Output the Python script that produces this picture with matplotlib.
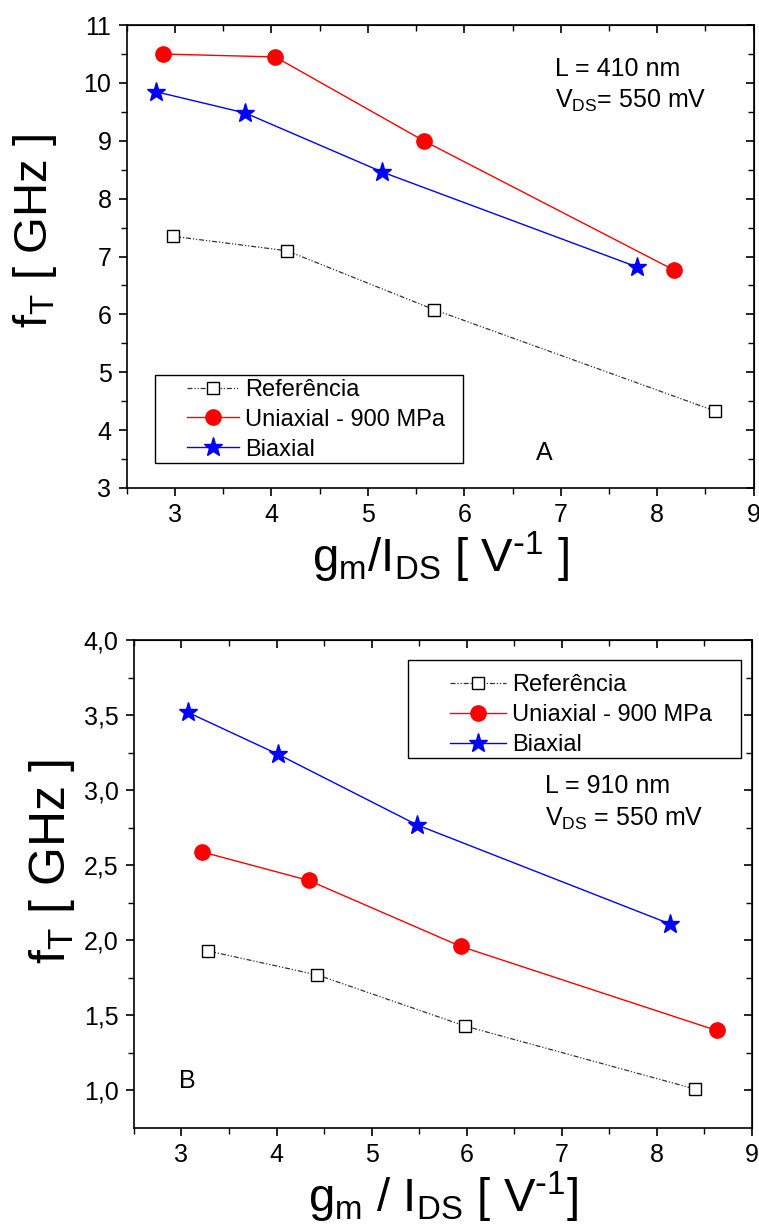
import matplotlib
matplotlib.use("Agg")
import matplotlib.pyplot as plt
from matplotlib.patches import Rectangle

plt.rcParams["font.family"] = ["Liberation Sans", "DejaVu Sans"]
plt.rcParams["mathtext.default"] = "regular"

# panel A: L = 410 nm
a_ref_x = [2.98, 4.16, 5.69, 8.60]
a_ref_y = [7.35, 7.10, 6.08, 4.33]
a_uni_x = [2.88, 4.04, 5.58, 8.17]
a_uni_y = [10.50, 10.45, 9.00, 6.77]
a_bi_x = [2.80, 3.73, 5.15, 7.79]
a_bi_y = [9.85, 9.48, 8.46, 6.82]

# panel B: L = 910 nm
b_ref_x = [3.28, 4.43, 5.98, 8.40]
b_ref_y = [1.93, 1.77, 1.43, 1.01]
b_uni_x = [3.22, 4.34, 5.94, 8.63]
b_uni_y = [2.59, 2.40, 1.96, 1.40]
b_bi_x = [3.07, 4.02, 5.48, 8.14]
b_bi_y = [3.52, 3.24, 2.77, 2.11]

labels = ["Referência", "Uniaxial - 900 MPa", "Biaxial"]


def draw(ax, rx, ry, ux, uy, bx, by):
    ax.plot(rx, ry, color="#333333", lw=0.9, ls=(0, (4, 1.5, 1, 1.5, 1, 1.5)),
            marker="s", ms=9, mfc="white", mec="black", mew=1.0, label=labels[0])
    ax.plot(ux, uy, color="red", lw=1.0, marker="o", ms=11, mfc="red", mec="red",
            label=labels[1])
    ax.plot(bx, by, color="blue", lw=1.0, marker="*", ms=14, mfc="blue", mec="blue",
            label=labels[2])


def style(ax, yticks, ymin_loc, fmt, lsize):
    ax.set_xlim(2.5, 9)
    ax.set_xticks(range(3, 10))
    ax.set_xticks([x + 0.5 for x in range(2, 9)], minor=True)
    ax.set_yticks(yticks)
    ax.set_yticks(ymin_loc, minor=True)
    ax.set_yticklabels([fmt(v) for v in yticks])
    for s in ax.spines.values():
        s.set_linewidth(1.2)
    ax.tick_params(which="major", direction="out", length=6, width=1.2, labelsize=lsize,
                   pad=5, top=False, right=False)
    ax.tick_params(which="minor", direction="out", length=4, width=1.0,
                   top=False, right=False)
    # inward ticks on the top and right frame
    tx = ax.secondary_xaxis("top")
    tx.set_xticks(ax.get_xticks())
    tx.set_xticks(ax.get_xticks(minor=True), minor=True)
    tx.tick_params(which="major", direction="in", length=6, width=1.2, labeltop=False)
    tx.tick_params(which="minor", direction="in", length=4, width=1.0)
    ty = ax.secondary_yaxis("right")
    ty.set_yticks(yticks)
    ty.set_yticks(ymin_loc, minor=True)
    ty.tick_params(which="major", direction="in", length=6, width=1.2, labelright=False)
    ty.tick_params(which="minor", direction="in", length=4, width=1.0)


def legend_box(ax, rect, anchor, hlen):
    ax.add_patch(Rectangle((rect[0], rect[1]), rect[2] - rect[0], rect[3] - rect[1],
                           transform=ax.transAxes, fill=False, ec="black", lw=1.0,
                           zorder=4))
    ax.legend(loc="upper left", bbox_to_anchor=anchor, fontsize=17, frameon=False,
              handlelength=hlen, borderpad=0, labelspacing=0.33, handletextpad=0.25)


fig = plt.figure(figsize=(7.59, 12.31), dpi=100)

# ---- panel A ----
axA = fig.add_axes([0.167, 0.6036, 0.826, 0.376])
draw(axA, a_ref_x, a_ref_y, a_uni_x, a_uni_y, a_bi_x, a_bi_y)
axA.set_ylim(3, 11)
style(axA, list(range(3, 12)), [v + 0.5 for v in range(3, 11)], lambda v: f"{v:d}", 18)
axA.set_ylabel("f$_T$ [ GHz ]", fontsize=34)
axA.yaxis.set_label_coords(-0.108, 0.555)
axA.set_xlabel(r"g$_m$/I$_{DS}$ [ V$^{\text{-}1}$ ]", fontsize=34, labelpad=2)
axA.text(6.94, 10.24, "L = 410 nm", fontsize=18, va="center")
axA.text(6.94, 9.69, "V$_{DS}$= 550 mV", fontsize=18, va="center")
axA.text(6.83, 3.6, "A", fontsize=18, ha="center", va="center")
legend_box(axA, (0.0447, 0.054, 0.536, 0.244), (0.077, 0.261), 2.2)

# ---- panel B ----
axB = fig.add_axes([0.1765, 0.0837, 0.814, 0.396])
draw(axB, b_ref_x, b_ref_y, b_uni_x, b_uni_y, b_bi_x, b_bi_y)
axB.set_ylim(0.75, 4.0)
style(axB, [1.0, 1.5, 2.0, 2.5, 3.0, 3.5, 4.0], [1.25, 1.75, 2.25, 2.75, 3.25, 3.75],
      lambda v: f"{v:.1f}".replace(".", ","), 18)
axB.set_ylabel("f$_T$ [ GHz ]", fontsize=36)
axB.yaxis.set_label_coords(-0.093, 0.547)
axB.set_xlabel(r"g$_m$ / I$_{DS}$ [ V$^{\text{-}1}$]", fontsize=34, labelpad=2)
axB.text(6.82, 3.03, "L = 910 nm", fontsize=18, va="center")
axB.text(6.82, 2.81, "V$_{DS}$ = 550 mV", fontsize=18, va="center")
axB.text(3.06, 1.06, "B", fontsize=18, ha="center", va="center")
legend_box(axB, (0.443, 0.758, 0.982, 0.961), (0.492, 0.955), 2.4)

fig.savefig("out.png", dpi=100, facecolor="white")
